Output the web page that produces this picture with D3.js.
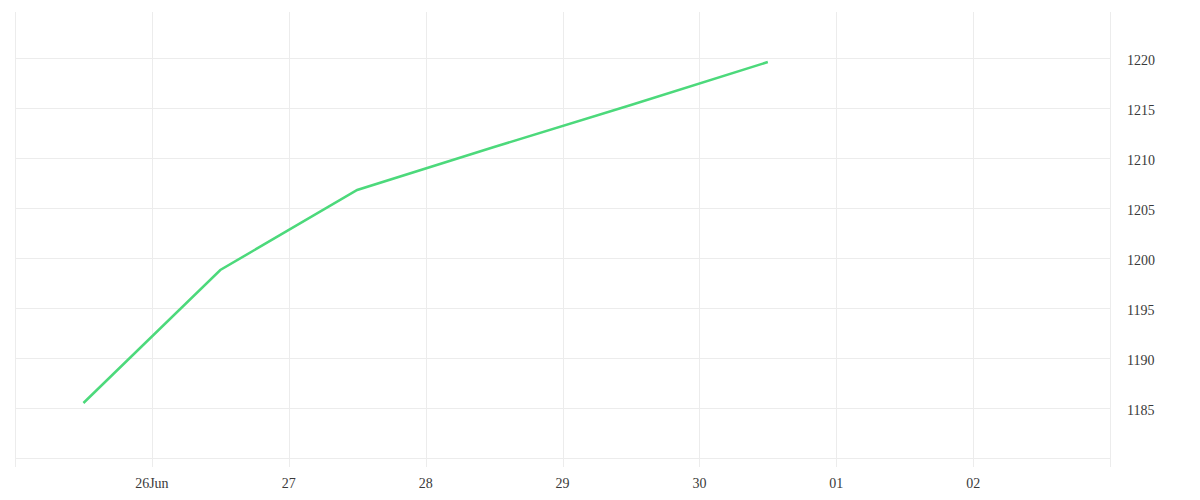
<!DOCTYPE html>
<html><head><meta charset="utf-8">
<script src="https://cdn.jsdelivr.net/npm/d3@7"></script>
<style>
body{margin:0;background:#fff;}
text{font-family:"Liberation Serif","DejaVu Serif",serif;}
</style></head>
<body><svg id="c" width="1200" height="500"></svg>
<script>
const dates = ["2024-06-25T12:00","2024-06-26T12:00","2024-06-27T12:00","2024-06-28T12:00","2024-06-29T12:00","2024-06-30T12:00"];
const values = [1185.5, 1198.8, 1206.8, 1211.1, 1215.3, 1219.6];
const yTicks = [1185, 1190, 1195, 1200, 1205, 1210, 1215, 1220];
const xDomain = ["2024-06-25T00:00","2024-07-03T00:00"];
const yDomain = [1180, 1224.6];

const parse = d3.timeParse("%Y-%m-%dT%H:%M");
const data = dates.map((d,i)=>({t:parse(d), v:values[i]}));
const svg = d3.select("#c");
const L=15, R=1110, T=12, B=458;
const x = d3.scaleTime().domain(xDomain.map(parse)).range([L,R]);
const y = d3.scaleLinear().domain(yDomain).range([B,T]);
const grid = "#ececec";

const xt = d3.timeDay.range(parse(xDomain[0]), d3.timeDay.offset(parse(xDomain[1]),1));
svg.append("g").selectAll("line").data(xt).join("line")
  .attr("x1",d=>Math.round(x(d))+0.5).attr("x2",d=>Math.round(x(d))+0.5)
  .attr("y1",T).attr("y2",B+9).attr("stroke",grid).attr("stroke-width",1);
svg.append("g").selectAll("line").data([1180].concat(yTicks)).join("line")
  .attr("x1",L).attr("x2",R)
  .attr("y1",d=>Math.round(y(d))+0.5).attr("y2",d=>Math.round(y(d))+0.5)
  .attr("stroke",grid).attr("stroke-width",1);

const fmt = d => d3.timeFormat("%d")(d) + (d.getDate()===26 && d.getMonth()===5 ? "Jun" : "");
svg.append("g").selectAll("text").data(xt.slice(1,-1)).join("text")
  .attr("x",d=>x(d)).attr("y",488).attr("text-anchor","middle")
  .attr("font-size",14).attr("fill","#3a3a3a").text(fmt);
svg.append("g").selectAll("text").data(yTicks).join("text")
  .attr("x",1127).attr("y",d=>y(d)+7).attr("text-anchor","start")
  .attr("font-size",14).attr("fill","#3a3a3a").text(d=>d);

svg.append("path").datum(data)
  .attr("d", d3.line().x(d=>x(d.t)).y(d=>y(d.v)))
  .attr("fill","none").attr("stroke","#4cd97b").attr("stroke-width",2.5);
</script></body></html>
